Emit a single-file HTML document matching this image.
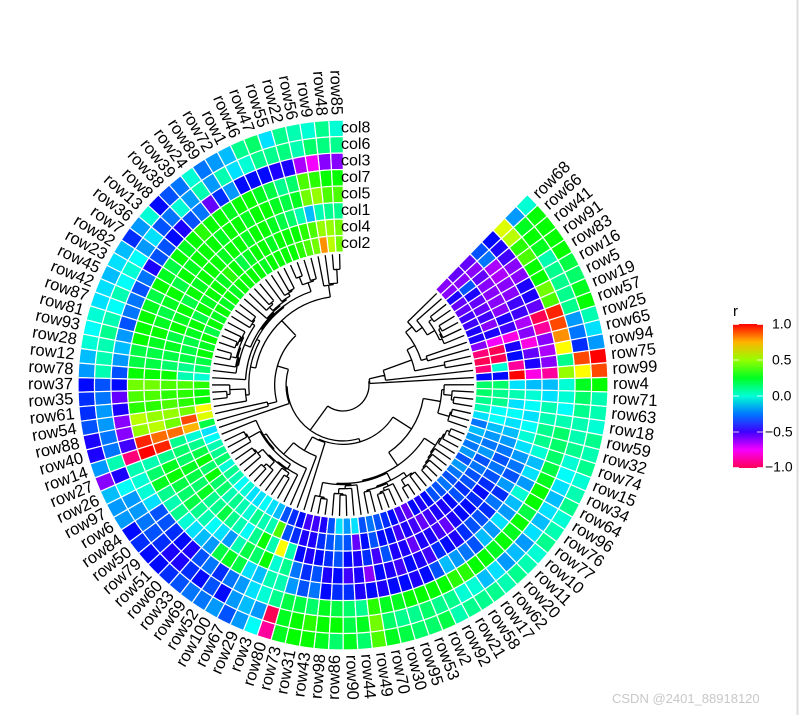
<!DOCTYPE html>
<html><head><meta charset="utf-8"><style>
body{margin:0;background:#fff;width:805px;height:715px;overflow:hidden;font-family:"Liberation Sans",sans-serif}
</style></head><body>
<svg id="chart" width="805" height="715" xmlns="http://www.w3.org/2000/svg" style="font-family:'Liberation Sans',sans-serif">
<defs><linearGradient id="lg" x1="0" y1="0" x2="0" y2="1">
<stop offset="0" stop-color="hsl(0,100%,50%)"/><stop offset="0.125" stop-color="hsl(42,100%,50%)"/><stop offset="0.25" stop-color="hsl(85,100%,50%)"/><stop offset="0.375" stop-color="hsl(128,100%,50%)"/><stop offset="0.5" stop-color="hsl(170,100%,50%)"/><stop offset="0.625" stop-color="hsl(212,100%,50%)"/><stop offset="0.75" stop-color="hsl(255,100%,50%)"/><stop offset="0.875" stop-color="hsl(298,100%,50%)"/><stop offset="1" stop-color="hsl(340,100%,50%)"/></linearGradient></defs>
<g id="dendro"></g>
<g id="cells"></g>
<g id="rlabels"></g>
<g id="clabels"></g>
<g>
<text x="733" y="316" font-size="15">r</text>
<rect x="733" y="324" width="30" height="144" fill="url(#lg)"/>
<g stroke="#fff" stroke-width="1" opacity="0.8"><line x1="733" x2="739" y1="324.5" y2="324.5"/><line x1="757" x2="763" y1="324.5" y2="324.5"/><line x1="733" x2="739" y1="360" y2="360"/><line x1="757" x2="763" y1="360" y2="360"/><line x1="733" x2="739" y1="396" y2="396"/><line x1="757" x2="763" y1="396" y2="396"/><line x1="733" x2="739" y1="432" y2="432"/><line x1="757" x2="763" y1="432" y2="432"/><line x1="733" x2="739" y1="467.5" y2="467.5"/><line x1="757" x2="763" y1="467.5" y2="467.5"/></g>
<g font-size="14" dominant-baseline="middle">
<text x="772" y="325">1.0</text>
<text x="772" y="361">0.5</text>
<text x="772" y="397">0.0</text>
<text x="765" y="433">−0.5</text>
<text x="765" y="468">−1.0</text>
</g></g>
<line x1="797.5" y1="0" x2="797.5" y2="715" stroke="#ddd" stroke-width="2"/>
<text x="612" y="703" font-size="13" fill="#c8c8c8">CSDN @2401_88918120</text>
</svg>
<script>
const rowLabels=["row85","row48","row9","row56","row22","row55","row47","row46","row1","row72","row89","row24","row39","row38","row8","row13","row36","row7","row82","row23","row45","row42","row87","row81","row93","row28","row12","row78","row37","row35","row61","row54","row88","row40","row14","row27","row26","row97","row6","row84","row50","row79","row51","row60","row33","row69","row52","row100","row67","row29","row3","row80","row73","row31","row43","row98","row86","row90","row44","row49","row70","row30","row95","row53","row2","row92","row21","row58","row17","row62","row20","row11","row10","row77","row76","row96","row64","row34","row15","row74","row32","row59","row18","row63","row71","row4","row99","row75","row94","row65","row25","row57","row19","row5","row16","row83","row91","row41","row66","row68"];
const colLabels=["col8","col6","col3","col7","col5","col1","col4","col2"];
const cellValues=[
[0,.1,-.6,.3,.4,.1,.45,.45],[.1,.12,-.6,.3,.4,.1,.5,.55],[0,.15,-.75,.35,.5,.05,.5,.8],[.05,.05,-.65,.4,.45,-.15,.4,.45],[.1,.12,-.45,.15,.25,.05,.35,.4],
[-.1,.1,-.45,.1,.2,.15,.3,.35],[.15,.1,-.4,.2,.25,.2,.3,.3],[.1,0,-.4,.25,.3,.25,.3,.3],[-.15,-.1,-.4,.3,.3,.3,.25,.3],[-.2,.05,-.2,.3,.25,.3,.3,.3],
[-.25,-.2,-.35,.25,.3,.25,.3,.25],[0,.05,-.55,.3,.3,.3,.25,.3],[-.25,-.2,-.25,.3,.25,.3,.2,.3],[-.3,0,-.3,.35,.3,.25,.3,.3],[-.4,-.25,-.45,.3,.3,.3,.35,.3],
[0,-.3,-.4,.25,.3,.3,.25,.25],[-.2,-.1,-.3,.3,.25,.3,.3,.3],[-.35,-.2,-.3,.2,.3,.25,.3,.25],[-.15,-.05,-.45,.25,.2,.3,.25,.3],[-.1,0,-.25,.3,.3,.2,.3,.25],
[-.15,-.05,-.3,.2,.25,.3,.2,.3],[-.1,.05,-.25,.25,.2,.25,.3,.2],[-.1,-.05,-.25,.3,.25,.3,.25,.3],[0,.05,-.3,.3,.3,.2,.2,.25],[-.05,.1,-.2,.3,.25,.25,.2,.3],
[0,.05,-.15,.2,.2,.2,.2,.2],[-.15,.05,-.2,.2,.2,.15,.1,.15],[-.2,.05,-.3,.3,.3,.3,.05,0],[-.4,-.3,-.4,.45,.45,.4,.4,.35],[-.35,-.25,-.55,.4,.4,.35,.35,.3],
[-.35,-.2,-.45,.35,.35,.4,.35,.3],[-.3,-.2,-.6,.55,.5,.5,.45,.65],[-.45,-.25,-.6,.5,.55,.45,.9,.6],[-.45,-.25,-.5,.95,.85,.85,.75,.2],[-.2,.05,-.95,1,.95,.1,0,-.1],
[-.6,-.45,.05,.05,.1,.15,.1,-.05],[-.15,-.05,0,.15,.25,.15,.2,.05],[-.2,-.2,0,.25,.3,.25,.3,.1],[-.2,-.2,-.1,.1,.2,.2,.15,.15],[-.4,-.25,-.3,.05,.15,.15,.3,0],
[-.35,-.3,-.3,.1,.2,.25,.15,.1],[-.4,-.35,-.35,0,.1,.1,.15,.05],[-.4,-.45,-.4,-.1,.05,.1,.05,-.05],[-.35,-.45,-.45,-.15,-.05,.2,.1,0],[-.3,-.35,-.3,-.2,-.1,.1,.05,-.1],
[-.25,-.4,-.25,.2,-.2,.05,0,-.1],[-.25,-.3,-.35,.25,.05,-.05,.1,-.05],[-.2,-.4,-.25,.2,.2,.1,.05,-.1],[-.3,-.2,-.2,-.1,.15,.3,.05,-.15],[-.2,-.15,-.1,-.15,.3,.05,.4,-.3],
[-.05,-.2,0,.05,0,.65,-.3,-.35],[-.9,-1,.1,.05,.1,.05,-.35,-.4],[.25,.25,.2,-.2,-.25,-.4,-.45,-.5],[.3,.3,.2,-.3,-.35,-.45,-.45,-.5],[.3,.35,.15,-.25,-.3,-.4,-.35,-.45],
[.25,.3,.25,-.4,-.45,-.35,-.3,-.3],[.15,.3,.2,-.35,-.4,-.3,-.25,-.1],[.25,.2,.15,-.35,-.5,-.4,-.3,-.2],[.15,.25,.1,-.45,-.45,-.45,-.55,-.1],[.4,.45,.35,-.4,-.6,-.35,-.4,-.3],
[.25,.15,.25,-.45,-.4,-.5,-.3,-.25],[.2,.1,.25,-.4,-.45,-.3,-.4,-.3],[.15,.1,.3,-.4,-.5,-.45,-.4,-.35],[.15,.15,.3,-.45,-.4,-.45,-.5,-.4],[.2,.1,.3,-.4,-.45,-.55,-.45,-.5],
[.05,.1,.3,-.3,-.5,-.45,-.5,-.55],[.1,0,.35,-.15,-.35,-.45,-.55,-.4],[.1,0,.35,-.2,-.4,-.5,-.5,-.45],[.1,-.15,.3,-.25,-.45,-.55,-.45,-.4],[.05,-.1,.3,-.3,-.35,-.45,-.45,-.3],
[.1,-.2,.25,-.15,-.3,-.4,-.4,-.3],[.05,-.15,.3,-.2,-.3,-.4,-.3,-.25],[0,-.2,.25,-.1,-.35,-.35,-.35,-.3],[.1,-.1,.3,-.2,-.25,-.4,-.3,-.25],[.05,-.15,.2,-.15,-.35,-.35,-.3,-.2],
[0,-.1,.3,0,-.2,-.3,-.25,-.3],[.1,-.15,.3,-.2,-.3,-.25,-.3,-.2],[.05,-.1,.25,-.1,-.25,-.3,-.2,-.25],[0,-.05,.2,-.15,-.2,-.25,-.25,-.2],[.1,0,.15,0,-.1,-.2,-.2,-.15],
[.05,.1,.15,.1,0,-.15,-.15,-.25],[.1,.05,.15,.1,-.05,-.1,-.05,-.1],[0,.05,.05,.05,-.1,-.05,-.05,.05],[.05,.1,-.05,.05,-.05,-.1,.1,.1],[.05,.15,0,-.1,0,.05,.1,.15],
[.3,.25,0,-.15,-.15,-.1,.15,.15],[.9,.65,.5,-.9,-.8,1,-.4,-.4],[1,.9,.1,-.6,-.45,-.9,0,-.95],[-.2,-.35,.65,-.65,-.55,-.4,-1,-1],[-.1,-.25,.8,-.6,-.8,-.45,-1,-.95],
[.05,-.2,.9,-.9,-.6,-.8,-.75,-.6],[.3,.1,.95,-1,-.65,-.5,-.45,-.45],[.25,.1,.4,-.55,-.5,-.45,-.6,-.45],[.15,.1,.45,-.45,-.5,-.6,-.5,-.5],[.2,.1,.3,-.45,-.6,-.6,-.55,-.5],
[.3,.05,.3,-.6,-.6,-.6,-.55,-.55],[.3,.25,.4,-.6,-.65,-.6,-.45,-.55],[.3,.3,.35,-.5,-.65,-.55,-.3,-.45],[.3,.25,.55,-.45,-.25,-.6,-.6,-.6],[0,-.2,.6,-.4,-.3,-.55,-.55,-.6]];

const NS="http://www.w3.org/2000/svg";
const CX=343,CY=385,R_OUT=265,R_IN=133,START=91.5,STEP=3.16;
const ringW=(R_OUT-R_IN)/colLabels.length;
function color(v){return "hsl("+((1-v)*170).toFixed(1)+",100%,50%)";}
function angleOf(i){return START+i*STEP;}
function pt(a,r){const t=a*Math.PI/180;return [CX+r*Math.cos(t),CY-r*Math.sin(t)];}
function sector(a0,a1,r0,r1){
  const p1=pt(a0,r1),p2=pt(a1,r1),p3=pt(a1,r0),p4=pt(a0,r0);
  return `M${p1[0]},${p1[1]} A${r1},${r1} 0 0 0 ${p2[0]},${p2[1]} L${p3[0]},${p3[1]} A${r0},${r0} 0 0 1 ${p4[0]},${p4[1]} Z`;
}
const cellsG=document.getElementById('cells');
cellValues.forEach((row,i)=>{
  const a=angleOf(i);
  row.forEach((v,k)=>{
    const r1=R_OUT-k*ringW,r0=r1-ringW;
    const p=document.createElementNS(NS,'path');
    p.setAttribute('d',sector(a-STEP/2,a+STEP/2,r0,r1));
    p.setAttribute('fill',color(v));
    p.setAttribute('stroke','#fff');
    p.setAttribute('stroke-width','1.2');
    
    
    cellsG.appendChild(p);
  });
});
const rl=document.getElementById('rlabels');
rowLabels.forEach((lab,i)=>{
  let a=((angleOf(i))%360+360)%360;
  const p=pt(a,R_OUT+5);
  const t=document.createElementNS(NS,'text');
  const left=a>90&&a<270;
  t.setAttribute('x',p[0]);t.setAttribute('y',p[1]);
  t.setAttribute('font-size','16.5');
  t.setAttribute('dominant-baseline','middle');
  t.setAttribute('text-anchor',left?'end':'start');
  t.setAttribute('transform',`rotate(${left?180-a:-a} ${p[0]} ${p[1]})`);
  t.textContent=lab;
  
  
  rl.appendChild(t);
});
const cl=document.getElementById('clabels');
colLabels.forEach((lab,k)=>{
  const r=R_OUT-(k+0.5)*ringW;
  const t=document.createElementNS(NS,'text');
  t.setAttribute('x',341);t.setAttribute('y',CY-r);
  t.setAttribute('font-size','16');
  t.setAttribute('dominant-baseline','middle');
  t.textContent=lab;
  
  
  cl.appendChild(t);
});
function dist(a,b){let s=0;for(let k=0;k<8;k++){const d=a[k]-b[k];s+=d*d;}return Math.sqrt(s);}
let clusters=cellValues.map((v,i)=>({mean:v.slice(),n:1,ang:angleOf(i),h:0,kids:null}));
while(clusters.length>1){
  let best=-1,bd=1e9;
  for(let i=0;i<clusters.length-1;i++){const d=dist(clusters[i].mean,clusters[i+1].mean);if(d<bd){bd=d;best=i;}}
  const a=clusters[best],b=clusters[best+1],n=a.n+b.n;
  const mean=a.mean.map((x,k)=>(x*a.n+b.mean[k]*b.n)/n);
  const h=Math.max(bd,a.h,b.h)+0.02;
  clusters.splice(best,2,{mean,n,ang:(a.ang+b.ang)/2,h,kids:[a,b]});
}
const root=clusters[0];
const hmax=root.h;
function rad(h){return 131-Math.pow(h/hmax,0.8)*105;}
let dpath="";
function walk(node){
  if(!node.kids)return;
  const r=rad(node.h);
  node.kids.forEach(c=>{walk(c);const r0=c.kids?rad(c.h):131;const p0=pt(c.ang,r0),p1=pt(c.ang,r);dpath+=`M${p0[0]},${p0[1]}L${p1[0]},${p1[1]}`;});
  const a0=node.kids[0].ang,a1=node.kids[1].ang;
  const q0=pt(a0,r),q1=pt(a1,r);
  dpath+=`M${q0[0]},${q0[1]}A${r},${r} 0 ${a1-a0>180?1:0} 0 ${q1[0]},${q1[1]}`;
}
walk(root);
const dp=document.createElementNS(NS,'path');
dp.setAttribute('d',dpath);dp.setAttribute('fill','none');dp.setAttribute('stroke','#000');dp.setAttribute('stroke-width','1.3');


document.getElementById('dendro').appendChild(dp);
</script>
</body></html>
